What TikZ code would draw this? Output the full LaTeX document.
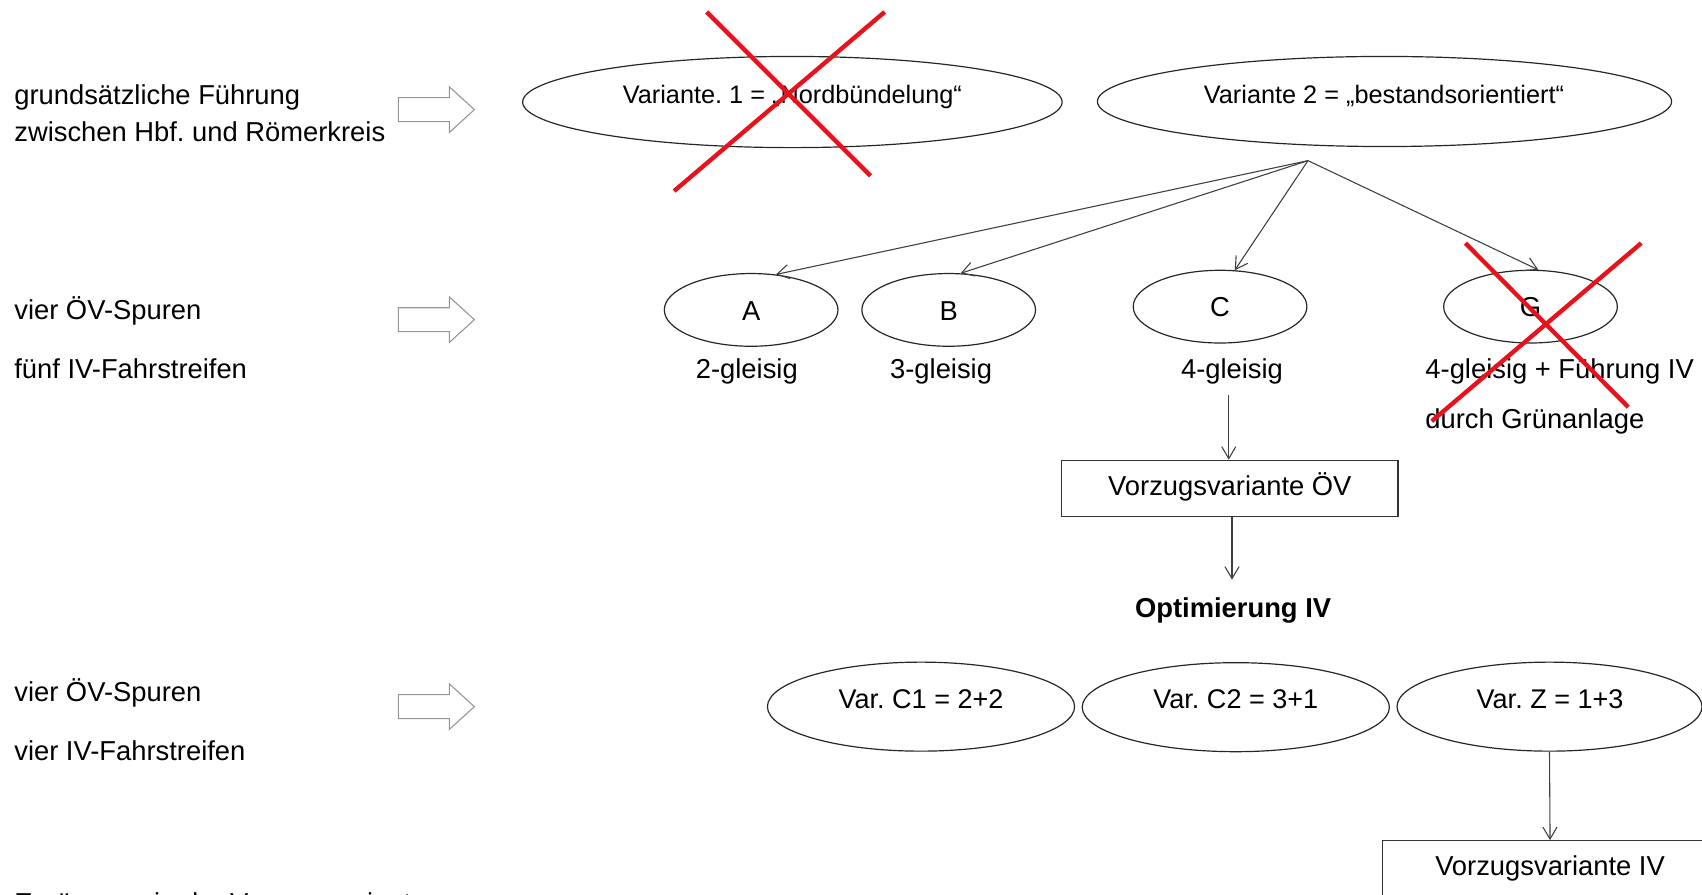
\documentclass[tikz,border=0pt]{standalone}
\usepackage{fontspec}
\setmainfont{Liberation Sans}
\usetikzlibrary{shapes.geometric,arrows.meta,calc}
\definecolor{xred}{RGB}{232,18,28}
\definecolor{bgray}{RGB}{150,150,150}
\frenchspacing
\begin{document}
\begin{tikzpicture}[x=1pt,y=-1pt,
  txt/.style={inner sep=0pt, font=\fontsize{25.2pt}{30pt}\selectfont\frenchspacing, text=black},
  lft/.style={txt, anchor=base west},
  ctr/.style={txt, anchor=base},
  toptxt/.style={ctr, font=\fontsize{23.3pt}{28pt}\selectfont\frenchspacing},
  oval/.style={draw=black!85, line width=1.1pt, ellipse, inner sep=0pt},
  conn/.style={draw=black!75, line width=1pt, -{Straight Barb[length=11pt,width=13pt]}},
  cross/.style={draw=xred, line width=4pt},
  blockarrow/.style={draw=bgray, line width=1pt, fill=white},
  box/.style={draw=black!80, line width=1.1pt, rectangle, inner sep=0pt, font=\fontsize{25.2pt}{30pt}\selectfont, text height=18pt, text depth=5pt}
]
\useasboundingbox (0,0) rectangle (1568,824);

% left column texts
\node[lft] (l1a) at (13,96) {grundsätzliche Führung};
\node[lft] (l1b) at (13,130) {zwischen Hbf. und Römerkreis};
\node[lft] (l2a) at (13,294) {vier ÖV-Spuren};
\node[lft] (l2b) at (13,349) {fünf IV-Fahrstreifen};
\node[lft] (l3a) at (13,646) {vier ÖV-Spuren};
\node[lft] (l3b) at (13,701) {vier IV-Fahrstreifen};
\node[lft] (l4) at (13,841) {Ergänzung in der Vorzugsvariante};

% block arrows
\foreach \y in {101,294.5,651}{
  \draw[blockarrow] (367,\y-11) -- (414,\y-11) -- (414,\y-21) -- (437,\y) -- (414,\y+21) -- (414,\y+11) -- (367,\y+11) -- cycle;
}

% top row
\node[oval, minimum width=497pt, minimum height=84pt] (v1) at (730,94) {};
\node[toptxt] (v1t) at (730,95) {Variante. 1 = „Nordbündelung“};
\node[oval, minimum width=529pt, minimum height=83pt] (v2) at (1275.5,93.5) {};
\node[toptxt] (v2t) at (1275,95) {Variante 2 = „bestandsorientiert“};

\coordinate (br) at (1205,148);

% second row
\node[oval, minimum width=160pt, minimum height=67pt] (A) at (692,285.5) {};
\node[ctr] (At) at (692,295) {A};
\node[oval, minimum width=160pt, minimum height=67pt] (B) at (874,285.5) {};
\node[ctr] (Bt) at (874,295) {B};
\node[oval, minimum width=160pt, minimum height=67pt] (C) at (1124,282.5) {};
\node[ctr] (Ct) at (1124,292) {C};
\node[oval, minimum width=160pt, minimum height=67pt] (G) at (1410,282.5) {};
\node[ctr] (Gt) at (1410,292) {G};

\node[ctr] (Al) at (688,349) {2-gleisig};
\node[ctr] (Bl) at (867,349) {3-gleisig};
\node[ctr] (Cl) at (1135,349) {4-gleisig};
\node[lft] (Gl1) at (1313,349) {4-gleisig + Führung IV};
\node[lft] (Gl2) at (1313,395) {durch Grünanlage};

\draw[conn] (br) -- (A.55);
\draw[conn] (br) -- (B.72);
\draw[conn] (br) -- (C.68);
\draw[conn] (br) -- (G.78);

% Vorzugsvariante OEV
\node[box, minimum width=310pt, minimum height=52pt] (vov) at (1133,450) {Vorzugsvariante ÖV};
\coordinate (cs) at (1132,364);
\draw[conn] (cs) -- (cs |- vov.north);
\coordinate (os) at (1135,476);
\draw[conn] (os) -- ++(0,58);
\node[ctr, font=\fontsize{25.2pt}{30pt}\selectfont\bfseries] (opt) at (1136,569) {Optimierung IV};

% bottom row
\node[oval, minimum width=283pt, minimum height=82pt] (c1) at (848.5,651) {};
\node[ctr, font=\fontsize{24.9pt}{30pt}\selectfont\frenchspacing] (c1t) at (848.5,653) {Var. C1 = 2+2};
\node[oval, minimum width=283pt, minimum height=82pt] (c2) at (1138.5,651.5) {};
\node[ctr, font=\fontsize{24.9pt}{30pt}\selectfont\frenchspacing] (c2t) at (1138.5,653) {Var. C2 = 3+1};
\node[oval, minimum width=281pt, minimum height=82pt] (z) at (1427.5,651) {};
\node[ctr, font=\fontsize{24.9pt}{30pt}\selectfont\frenchspacing] (zt) at (1428,653) {Var. Z = 1+3};

\node[box, minimum width=308pt, minimum height=52pt] (viv) at (1428,800.5) {Vorzugsvariante IV};
\draw[conn] (z.south) -- (viv.north);

% red crosses
\draw[cross] (651,11) -- (802,162);
\draw[cross] (815,11) -- (621,176);
\draw[cross] (1350,224) -- (1500,375);
\draw[cross] (1512,224) -- (1319,388);
\end{tikzpicture}
\end{document}
